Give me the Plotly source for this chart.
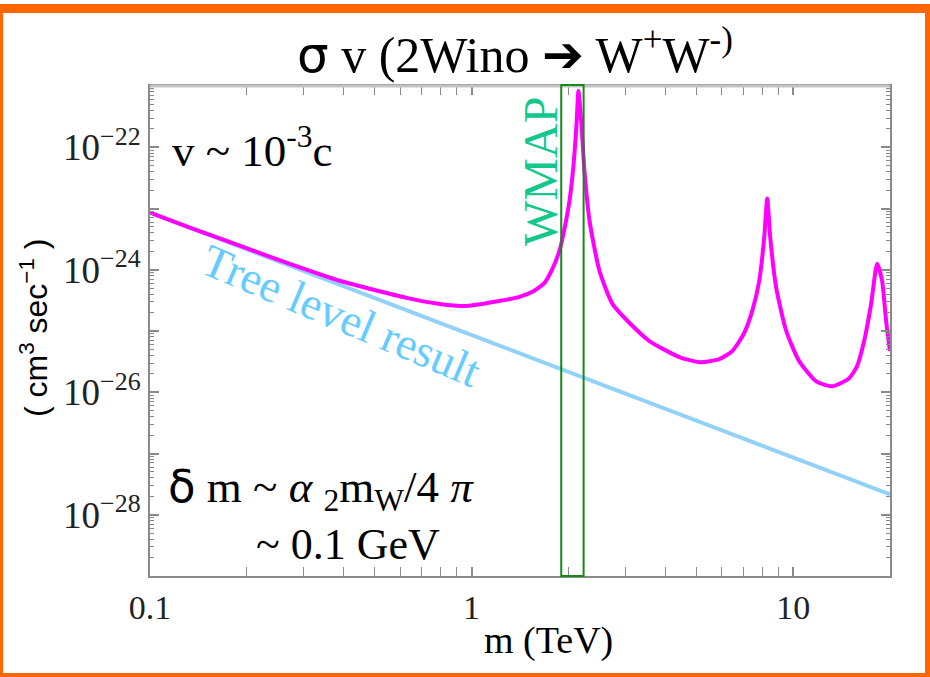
import math
import plotly.graph_objects as go

# ---------------- data ----------------
tree_m = [0.1, 20.0]
tree_sv = [8.6e-24, 2.15e-28]

wino_m = [0.1, 0.133, 0.190, 0.272, 0.389, 0.628, 0.796, 0.965, 1.222, 1.409,
          1.546, 1.686, 1.785, 1.876, 1.945, 2.016, 2.074, 2.119, 2.149, 2.196,
          2.243, 2.326, 2.498, 2.741, 3.10, 3.572, 4.426, 5.107, 5.89, 6.466,
          7.04, 7.46, 7.844, 8.127, 8.305, 8.484, 8.857, 9.513, 10.44, 11.79,
          13.22, 14.93, 15.80, 16.62, 17.47, 18.24, 18.90, 19.45, 20.0]
wino_sv = [8.59e-24, 4.89e-24, 2.47e-24, 1.25e-24, 6.61e-25, 3.47e-25, 2.77e-25, 2.57e-25, 3.10e-25, 3.61e-25,
           4.36e-25, 6.12e-25, 1.04e-24, 2.05e-24, 4.70e-24, 1.35e-23, 5.07e-23, 2.30e-22, 8.28e-22, 2.30e-22,
           4.20e-23, 6.35e-24, 9.64e-25, 2.77e-25, 1.35e-25, 6.86e-26, 3.75e-26, 3.10e-26, 3.47e-26, 4.70e-26,
           9.27e-26, 2.13e-25, 6.61e-25, 3.35e-24, 1.46e-23, 3.35e-24, 5.07e-25, 1.0e-25, 3.22e-26, 1.51e-26,
           1.25e-26, 1.70e-26, 2.67e-26, 6.86e-26, 2.77e-25, 1.25e-24, 6.61e-25, 1.46e-25, 4.70e-26]

wmap_band = [1.9, 2.23]

x_ticks = [0.1, 1, 10]
x_ticktext = ["0.1", "1", "10"]
y_label_exps = [-22, -24, -26, -28]
y_other_exps = [-21, -23, -25, -27, -29]

# ---------------- layout geometry ----------------
W, H = 930, 677
L, R, T, B = 150, 890, 86, 576


def px(x):
    return (x - L) / (R - L)


def py(y):
    return (B - y) / (B - T)


SERIF = "Liberation Serif"
SANS = "Liberation Sans"

fig = go.Figure()
fig.add_trace(go.Scatter(x=tree_m, y=tree_sv, mode="lines",
                         line=dict(color="#92d2f8", width=4), hoverinfo="skip"))
fig.add_trace(go.Scatter(x=wino_m, y=wino_sv, mode="lines",
                         line=dict(color="#ff00ff", width=4, shape="spline", smoothing=0.6),
                         hoverinfo="skip"))
# invisible trace on the overlay axis (for unlabeled decade ticks)
fig.add_trace(go.Scatter(x=[tree_m[0]], y=[tree_sv[0]], yaxis="y2", mode="markers",
                         marker=dict(opacity=0), hoverinfo="skip"))

x_minor = [j * 10 ** k for k in (-1, 0, 1) for j in range(2, 10) if j * 10 ** k <= 20]
y_minor = [j * 10.0 ** k for k in range(-29, -21) for j in range(2, 10)]

axis_col = "#8a8a8a"
fig.update_layout(
    xaxis=dict(type="log", range=[-1, math.log10(20)], showgrid=False, zeroline=False,
               showline=True, linecolor=axis_col, linewidth=2, mirror="allticks",
               ticks="inside", ticklen=9, tickwidth=1.5, tickcolor=axis_col,
               tickvals=x_ticks, ticktext=x_ticktext,
               tickfont=dict(family=SERIF, size=34, color="#222"),
               ticklabelstandoff=0,
               minor=dict(tickvals=x_minor, ticks="inside", ticklen=4, tickcolor=axis_col, tickwidth=1)),
    yaxis=dict(type="log", range=[-29, -21], showgrid=False, zeroline=False,
               showline=True, linecolor=axis_col, linewidth=2, mirror="allticks",
               ticks="inside", ticklen=9, tickwidth=1.5, tickcolor=axis_col,
               tickvals=[10.0 ** e for e in y_label_exps],
               ticktext=["10<sup>\u2212%d</sup>" % -e for e in y_label_exps],
               tickfont=dict(family=SERIF, size=37, color="#222"),
               ticklabelstandoff=0,
               minor=dict(tickvals=y_minor, ticks="inside", ticklen=4, tickcolor=axis_col, tickwidth=1)),
    yaxis2=dict(type="log", range=[-29, -21], overlaying="y", side="left", anchor="x",
                showgrid=False, zeroline=False, showline=False, mirror="ticks",
                ticks="inside", ticklen=9, tickwidth=1.5, tickcolor=axis_col,
                tickvals=[10.0 ** e for e in y_other_exps], showticklabels=False),
)

shapes = []
# light top frame
shapes.append(dict(type="line", xref="paper", yref="paper", x0=0, x1=1, y0=1, y1=1,
                   line=dict(color="#c4c4c4", width=3), layer="above"))
# WMAP box
shapes.append(dict(type="rect", xref="x", yref="paper", x0=wmap_band[0], x1=wmap_band[1],
                   y0=0, y1=py(85), line=dict(color="#168a16", width=2), layer="above"))
# orange border
orange = "#ff6600"
for (x0, y0, x1, y1) in [(0, 4, W, 13), (0, 4, 3, H), (925, 4, W, H), (0, 673, W, H)]:
    shapes.append(dict(type="rect", xref="paper", yref="paper", x0=px(x0), x1=px(x1), y0=py(y1), y1=py(y0),
                       fillcolor=orange, line=dict(width=0), layer="above"))


def ann(text, x, y, size, family=SERIF, color="black", angle=0, xanchor="center"):
    return dict(text=text, xref="paper", yref="paper", x=px(x), y=py(y), showarrow=False,
                xanchor=xanchor, yanchor="middle", textangle=angle,
                font=dict(family=family, size=size, color=color))


DJ = "<span style='font-family:DejaVu Sans'>%s</span>"
annotations = [
    ann(DJ % "\u03c3" + " v (2Wino " + DJ % "<b>\u2794</b>" + " W<sup>+</sup>W<sup>-)</sup>", 515, 52, 50),
    ann("v ~ 10<sup>-3</sup>c", 170, 148, 45, xanchor="left"),
    ann("Tree level result", 341, 315, 46, color="#66ccff", angle=23),
    ann("WMAP", 540, 172, 48, color="#14c88c", angle=-90),
    ann(DJ % "\u03b4" + " m ~ <i>\u03b1</i> <sub>2</sub>m<sub>W</sub>/4 <i>\u03c0</i>", 166, 489, 45,
        xanchor="left"),
    ann("~ 0.1 GeV", 348, 544, 44),
    ann("m (TeV)", 548, 640, 38),
    ann("( cm<sup>3</sup> sec<sup>\u22121</sup> )", 34, 328, 32, family=SANS, angle=-90),
]

fig.update_layout(width=W, height=H, margin=dict(l=L, r=W - R, t=T, b=H - B),
                  paper_bgcolor="white", plot_bgcolor="white", showlegend=False,
                  shapes=shapes, annotations=annotations)

fig.write_html("out.html")
